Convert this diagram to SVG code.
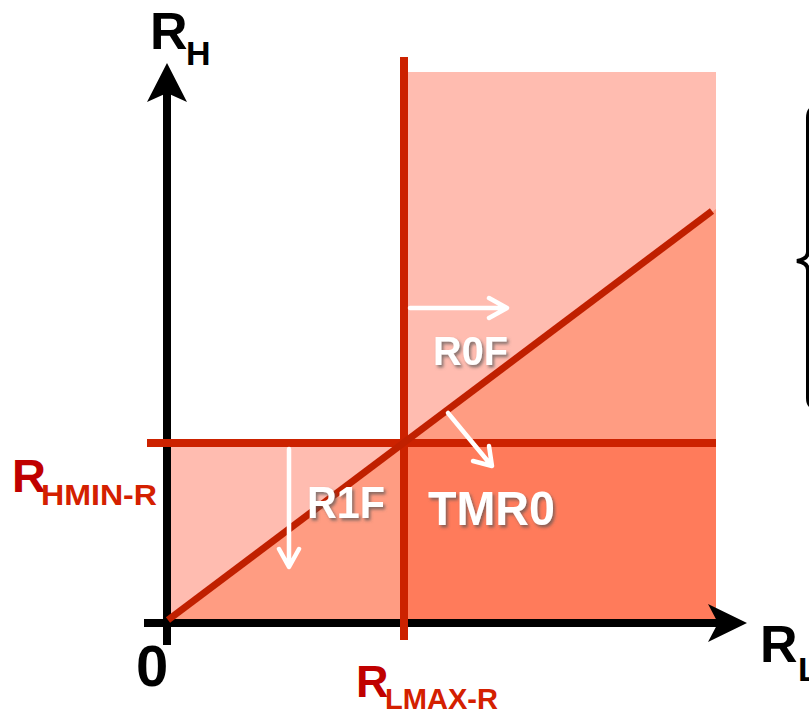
<svg xmlns="http://www.w3.org/2000/svg" width="809" height="712" viewBox="0 0 809 712">
<style>
.ax{font-family:"Liberation Sans",Arial,sans-serif;font-weight:bold;fill:#000}
.rd{font-family:"Liberation Sans",Arial,sans-serif;font-weight:bold}
.wl{font-family:"Liberation Sans",Arial,sans-serif;font-weight:bold;fill:#fff}
.rl{stroke:#CC2200;stroke-width:8;fill:none}
.wa{stroke:#fff;stroke-width:4.5;fill:none;stroke-linecap:round;stroke-linejoin:round}
</style>
<defs>
<filter id="sh" x="-20%" y="-20%" width="140%" height="150%">
<feDropShadow dx="2" dy="2.5" stdDeviation="1.5" flood-color="#555" flood-opacity="0.7"/>
</filter>
</defs>
<rect width="809" height="712" fill="#fff"/>
<g id="regions">
<rect x="404" y="72" width="312" height="551" fill="#FFBCB0"/>
<rect x="167" y="443" width="237" height="180" fill="#FFBCB0"/>
<polygon points="168,620 716,209 716,623 168,623" fill="#FF9C82"/>
<rect x="404" y="443" width="312" height="180" fill="#FF7B5B"/>
</g>
<g id="axes">
<line x1="167" y1="645" x2="167" y2="92" stroke="#000" stroke-width="8"/>
<polygon points="167,63 187,102 167,93 147,102" fill="#000"/>
<line x1="144" y1="623" x2="718" y2="623" stroke="#000" stroke-width="8"/>
<polygon points="747,623 708,642 718,623 708,604" fill="#000"/>
</g>
<g id="connectors">
<line class="rl" x1="147" y1="443" x2="716" y2="443"/>
<line class="rl" x1="404" y1="57" x2="404" y2="640"/>
<line x1="168" y1="620" x2="712" y2="211" stroke="#C02000" stroke-width="7"/>
<path class="wa" d="M410 308 H506 M489 298 L507 308 L489 318"/>
<path class="wa" d="M448 413 L491 465 M473 461 L492 466 L489 446"/>
<path class="wa" d="M289 449 V566 M279 549 L289 567 L299 549"/>
</g>
<g id="label-RH">
<text class="ax" x="150" y="49" font-size="52">R</text>
<text class="ax" x="186" y="65" font-size="34">H</text>
</g>
<g id="label-RL">
<text class="ax" x="760" y="662" font-size="52">R</text>
<text class="ax" x="798" y="681" font-size="34">L</text>
</g>
<g id="label-0">
<text class="ax" x="136" y="686" font-size="58">0</text>
</g>
<g id="label-RHMIN">
<text class="rd" x="12" y="492" font-size="47" fill="#C00000">R</text>
<text class="rd" x="41" y="505" font-size="30" fill="#D42000" textLength="116" lengthAdjust="spacingAndGlyphs">HMIN-R</text>
</g>
<g id="label-RLMAX">
<text class="rd" x="356" y="697" font-size="45" fill="#C00000">R</text>
<text class="rd" x="385" y="709" font-size="30" fill="#D42000" textLength="113" lengthAdjust="spacingAndGlyphs">LMAX-R</text>
</g>
<g id="label-R0F" filter="url(#sh)">
<text class="wl" x="433" y="365" font-size="40" textLength="75" lengthAdjust="spacingAndGlyphs">R0F</text>
</g>
<g id="label-R1F" filter="url(#sh)">
<text class="wl" x="307" y="518" font-size="45" textLength="78" lengthAdjust="spacingAndGlyphs">R1F</text>
</g>
<g id="label-TMR0" filter="url(#sh)">
<text class="wl" x="428" y="525" font-size="48" textLength="127" lengthAdjust="spacingAndGlyphs">TMR0</text>
</g>
<g id="brace">
<path d="M815 108 Q808 108 808 118 L808 252 Q808 259 797 261 Q808 263 808 270 L808 398 Q808 407 815 407" stroke="#000" stroke-width="4" fill="none"/>
</g>
</svg>
